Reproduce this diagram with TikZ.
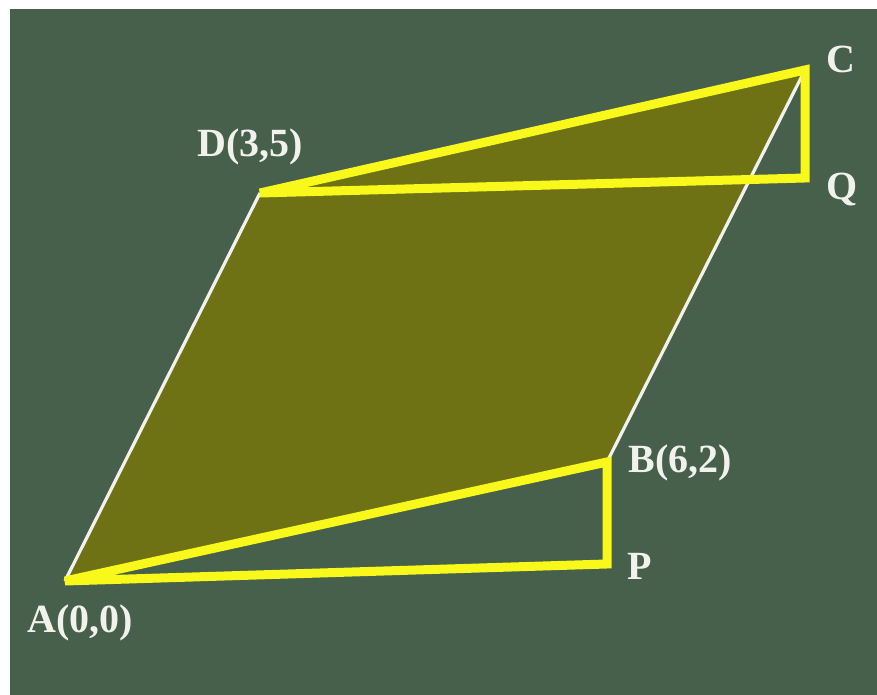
\documentclass[tikz,border=0pt]{standalone}
\usepackage{fontspec}
\setmainfont{Liberation Serif}
\definecolor{board}{HTML}{46604C}
\definecolor{olive}{HTML}{6E7114}
\definecolor{hl}{HTML}{F8F81A}
\definecolor{chalk}{HTML}{F2F2EC}
\begin{document}
\begin{tikzpicture}[x=1pt,y=1pt,
  side/.style={draw=chalk,line width=3.2pt},
  yel/.style={draw=hl,line width=9pt,line join=miter,miter limit=4},
  lbl/.style={text=chalk,font=\fontsize{40}{44}\selectfont\bfseries,anchor=base,inner sep=0pt}]
\useasboundingbox (0,0) rectangle (877,695);
\fill[white] (0,0) rectangle (877,695);
\fill[board] (10,0) rectangle (877,686);
\coordinate (A) at (65,114);
\coordinate (B) at (607,233);
\coordinate (C) at (805,625);
\coordinate (D) at (260,502);
\coordinate (P) at (607,131);
\coordinate (Q) at (805,517);
\fill[olive] (A) -- (B) -- (C) -- (D) -- cycle;
\draw[side] (A) -- (D);
\draw[side] (B) -- (C);
\draw[yel] (A) -- (B) -- (P) -- cycle;
\draw[yel] (D) -- (C) -- (Q) -- cycle;
\node[lbl] (lA) at (80,62) {A(0,0)};
\node[lbl] (lB) at (680,222) {B(6,2)};
\node[lbl] (lC) at (841,622) {C};
\node[lbl] (lD) at (250,538) {D(3,5)};
\node[lbl] (lP) at (640,115) {P};
\node[lbl] (lQ) at (842,495) {Q};
\end{tikzpicture}
\end{document}
